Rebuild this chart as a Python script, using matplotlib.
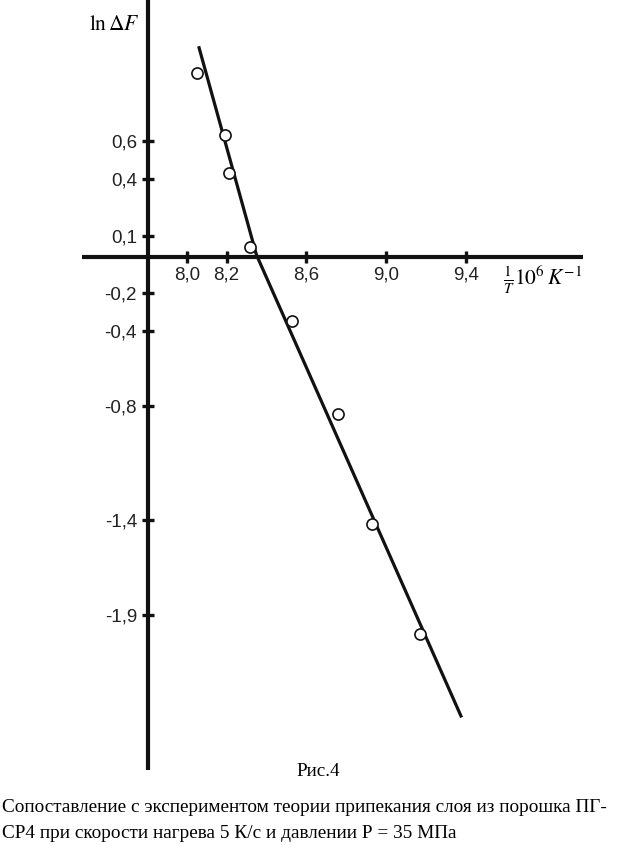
import matplotlib
matplotlib.use("Agg")
import matplotlib.pyplot as plt

# ---- data ----
x_exp = [8.05, 8.19, 8.21, 8.32, 8.53, 8.76, 8.93, 9.17]
y_exp = [0.96, 0.63, 0.43, 0.04, -0.35, -0.84, -1.42, -2.00]
line_x = [8.06, 8.35, 9.38]
line_y = [1.10, 0.00, -2.44]
x_ticks = [8.0, 8.2, 8.6, 9.0, 9.4]
x_tick_labels = ["8,0", "8,2", "8,6", "9,0", "9,4"]
y_ticks = [0.6, 0.4, 0.1, -0.2, -0.4, -0.8, -1.4, -1.9]
y_tick_labels = ["0,6", "0,4", "0,1", "-0,2", "-0,4", "-0,8", "-1,4", "-1,9"]
y_label = r"$\ln\Delta F$"
x_label = r"$\frac{1}{T}10^6\,K^{-1}$"
caption_title = "Рис.4"
caption_line1 = "Сопоставление с экспериментом теории припекания слоя из порошка ПГ-"
caption_line2 = "СР4 при скорости нагрева 5 К/с и давлении Р = 35 МПа"

plt.rcParams["mathtext.fontset"] = "stix"
plt.rcParams["font.family"] = ["Liberation Sans", "DejaVu Sans"]

W, H = 628, 858
fig = plt.figure(figsize=(W / 100, H / 100), dpi=100)
ax = fig.add_axes([0, 0, 1, 1])
ax.set_xlim(7.0627, 10.2154)
ax.set_ylim(-3.1814, 1.3439)

for s in ("top", "right"):
    ax.spines[s].set_visible(False)
ax.spines["left"].set_position(("data", 7.806))
ax.spines["bottom"].set_position(("data", -0.01))
ax.spines["left"].set_bounds(-2.716, 1.344)
ax.spines["bottom"].set_bounds(7.474, 9.99)
for s in ("left", "bottom"):
    ax.spines[s].set_linewidth(3.0)
    ax.spines[s].set_color("#111111")
    ax.spines[s].set_capstyle("butt")

ax.set_xticks(x_ticks)
ax.set_xticklabels(x_tick_labels)
ax.set_yticks(y_ticks)
ax.set_yticklabels(y_tick_labels)
ax.tick_params(axis="both", direction="inout", length=8, width=2.4,
               color="#111111", labelsize=13.5, labelcolor="#222222")
ax.tick_params(axis="x", pad=3)
ax.tick_params(axis="y", pad=4)

ax.plot(line_x, line_y, color="#111111", lw=2.3, solid_capstyle="butt", zorder=3)
ax.plot(x_exp, y_exp, linestyle="none", marker="o", markersize=8,
        markerfacecolor="white", markeredgecolor="#111111",
        markeredgewidth=1.2, zorder=4)

fig.text(114 / W, 1 - 24 / H, y_label, fontsize=15.5, ha="center", va="center")
fig.text(543 / W, 1 - 280 / H, x_label, fontsize=15.5, ha="center", va="center")

serif = ["Liberation Serif", "DejaVu Serif"]
fig.text(318 / W, 1 - 771 / H, caption_title, family=serif, fontsize=13.8,
         ha="center", va="center")
fig.text(2 / W, 1 - 808 / H, caption_line1, family=serif, fontsize=13.9,
         ha="left", va="center")
fig.text(2 / W, 1 - 833 / H, caption_line2, family=serif, fontsize=13.9,
         ha="left", va="center")

fig.savefig("out.png", dpi=100, facecolor="white")
